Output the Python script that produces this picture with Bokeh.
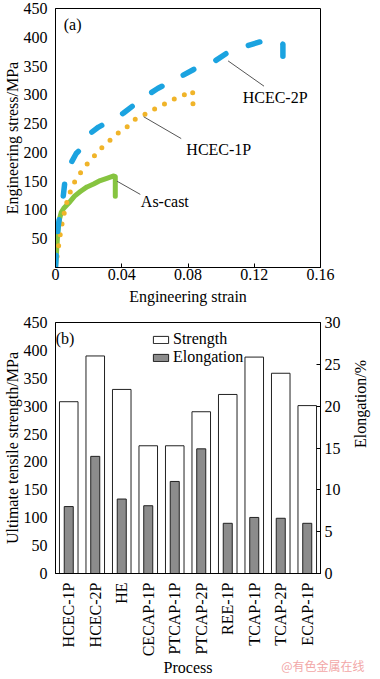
import math
from bokeh.plotting import figure
from bokeh.layouts import column
from bokeh.models import (Range1d, LinearAxis, FixedTicker, NumeralTickFormatter,
                          Legend, LegendItem, Label, FactorRange, Title)
from bokeh.embed import file_html
from bokeh.resources import INLINE
from bokeh.core.properties import value

# ---------------- data: (a) engineering stress-strain curves ----------------
ascast_strain = [0, 0.0008, 0.0015, 0.0025, 0.0035, 0.005, 0.008, 0.0115, 0.015,
                 0.019, 0.023, 0.027, 0.031, 0.0352, 0.0361, 0.0361]
ascast_stress = [0, 35, 65, 85, 96, 103, 112, 124, 132, 140, 145, 151, 155, 159, 158, 124]

hcec1p_strain = [0, 0.001, 0.002, 0.003, 0.0045, 0.0065, 0.0085, 0.011, 0.0138, 0.0176,
                 0.0223, 0.0267, 0.0318, 0.0365, 0.0427, 0.0471, 0.0532, 0.0588, 0.0651,
                 0.0711, 0.0768, 0.0828, 0.0830, 0.0830]
hcec1p_stress = [0, 20, 40, 60, 85, 110, 128, 146, 159, 175, 190, 205, 218, 231, 243, 256,
                 265, 274, 283, 292, 299, 307, 287, 266]

hcec2p_strain = [0, 0.0008, 0.0015, 0.0025, 0.004, 0.0055, 0.0087, 0.0125, 0.0159, 0.0195,
                 0.026, 0.0333, 0.0409, 0.0532, 0.0617, 0.073, 0.0834, 0.0948, 0.1042,
                 0.1165, 0.127, 0.1335, 0.1373, 0.1373]
hcec2p_stress = [0, 40, 70, 88, 106, 145, 178, 198, 208, 230, 244, 255, 268, 295, 311, 328,
                 344, 356, 374, 386, 395, 393, 388, 352]

strain_ticks = [0, 0.04, 0.08, 0.12, 0.16]
stress_ticks = [0, 50, 100, 150, 200, 250, 300, 350, 400, 450]

# ---------------- data: (b) strength and elongation by process ----------------
processes = ["HCEC-1P", "HCEC-2P", "HE", "CECAP-1P", "PTCAP-1P", "PTCAP-2P",
             "REE-1P", "TCAP-1P", "TCAP-2P", "ECAP-1P"]
strength = [308, 390, 330, 229, 229, 290, 321, 388, 359, 301]
elongation = [8.0, 14.0, 8.9, 8.1, 11.0, 14.9, 6.0, 6.7, 6.6, 6.0]
elong_ticks = [0, 5, 10, 15, 20, 25, 30]

# ---------------- styles ----------------
FONT = "Liberation Serif"
FS = "16px"
GREEN = "#86c440"
ORANGE = "#f0b429"
BLUE = "#1ba3e0"
GRAY_BAR = "#8c8c8c"


def style_axis(ax, ticks=True):
    ax.axis_label_text_font = FONT
    ax.axis_label_text_font_size = FS
    ax.axis_label_text_font_style = "normal"
    ax.axis_label_text_color = "black"
    ax.major_label_text_font = FONT
    ax.major_label_text_font_size = FS
    ax.major_label_text_color = "black"
    ax.axis_line_color = "black"
    ax.minor_tick_line_color = None
    if ticks:
        ax.major_tick_in = 4
        ax.major_tick_out = 0
        ax.major_tick_line_color = "black"
    else:
        ax.major_tick_line_color = None
    ax.major_label_standoff = 2
    ax.axis_label_standoff = 0


# ---------------- figure (a) ----------------
p1 = figure(width=380, height=313, x_range=Range1d(0, 0.16), y_range=Range1d(0, 450),
            output_backend="svg", toolbar_location=None,
            min_border_left=50, min_border_right=54, min_border_top=8, min_border_bottom=46)
p1.grid.visible = False
p1.outline_line_color = "black"
p1.background_fill_color = "white"

p1.xaxis.ticker = FixedTicker(ticks=strain_ticks)
p1.xaxis.formatter = NumeralTickFormatter(format="0.[00]")
p1.xaxis.axis_label = "Engineering strain"
p1.yaxis.ticker = FixedTicker(ticks=stress_ticks)
p1.yaxis.major_label_overrides = {0: ""}
p1.yaxis.axis_label = "Engineering stress/MPa"
style_axis(p1.xaxis[0], True)
style_axis(p1.yaxis[0], False)
p1.xaxis.major_label_standoff = 1
p1.xaxis.axis_label_standoff = 5

p1.line(ascast_strain, ascast_stress, line_color=GREEN, line_width=5,
        line_cap="round", line_join="round")
p1.line(hcec1p_strain, hcec1p_stress, line_color=ORANGE, line_width=5,
        line_dash="0 11", line_cap="round", line_join="round")
p1.line(hcec2p_strain, hcec2p_stress, line_color=BLUE, line_width=5.5,
        line_dash="12 24", line_cap="round", line_join="round")

# call-out labels (annotation positions in data units)
callout_names = ["HCEC-2P", "HCEC-1P", "As-cast"]
callout_x0 = [0.1042, 0.0532, 0.0371]
callout_y0 = [359, 262, 150]
callout_x1 = [0.1259, 0.0759, 0.0512]
callout_y1 = [315, 224, 127]
callout_tx = [0.1326, 0.0986, 0.066]
callout_ty = [295, 205, 115]
p1.segment(callout_x0, callout_y0, callout_x1, callout_y1, line_color="#555555", line_width=1)
p1.text(callout_tx, callout_ty, text=callout_names, text_font=value(FONT),
        text_font_size=FS, text_align="center", text_baseline="middle", text_color="black")
p1.add_layout(Label(x=0.005, y=422, text="(a)", text_font=FONT, text_font_size=FS,
                    text_baseline="middle", text_align="left", text_color="black"))

# ---------------- figure (b) ----------------
p2 = figure(width=380, height=366, x_range=FactorRange(*processes, range_padding=0),
            y_range=Range1d(0, 450), output_backend="svg", toolbar_location=None,
            min_border_left=50, min_border_right=54, min_border_top=9, min_border_bottom=100)
p2.grid.visible = False
p2.outline_line_color = "black"
p2.extra_y_ranges = {"elong": Range1d(0, 30)}

p2.yaxis.ticker = FixedTicker(ticks=stress_ticks)
p2.yaxis.axis_label = "Ultimate tensile strength/MPa"
style_axis(p2.yaxis[0], False)
p2.xaxis.axis_label = "Process"
p2.xaxis.major_label_orientation = math.pi / 2
style_axis(p2.xaxis[0], False)
p2.xaxis.major_label_standoff = 3

right_ax = LinearAxis(y_range_name="elong", axis_label="Elongation/%",
                      ticker=FixedTicker(ticks=elong_ticks))
style_axis(right_ax, True)
right_ax.major_label_standoff = 4
right_ax.axis_label_orientation = math.pi / 2
right_ax.axis_label_standoff = 17
p2.add_layout(right_ax, "right")

r_str = p2.vbar(x=processes, top=strength, width=0.7, fill_color="white",
                line_color="#222222", line_width=1)
r_el = p2.vbar(x=processes, top=elongation, width=0.34, fill_color=GRAY_BAR,
               line_color="#222222", line_width=1, y_range_name="elong")

legend = Legend(items=[LegendItem(label="Strength", renderers=[r_str]),
                       LegendItem(label="Elongation", renderers=[r_el])],
                location=(96, 207), orientation="vertical",
                glyph_width=19, glyph_height=9, label_height=14, label_standoff=3,
                spacing=-3, padding=0, margin=0, border_line_color=None,
                background_fill_alpha=0, label_text_font=FONT, label_text_font_size=FS,
                label_text_color="black", label_text_baseline="middle")
p2.add_layout(legend)

p2.add_layout(Label(x=0.2, y=422, text="(b)", text_font=FONT, text_font_size=FS,
                    text_baseline="middle", text_align="left", text_color="black",
                    x_units="screen"))
p2.add_layout(Title(text="@有色金属在线", align="right", text_font="Noto Sans CJK SC",
                    text_font_size="12px", text_font_style="normal", text_color="#f2a7a7",
                    vertical_align="top", standoff=-46, offset=-44), "below")

layout = column(p1, p2, spacing=0)
open("out.html", "w").write(file_html(layout, INLINE))
